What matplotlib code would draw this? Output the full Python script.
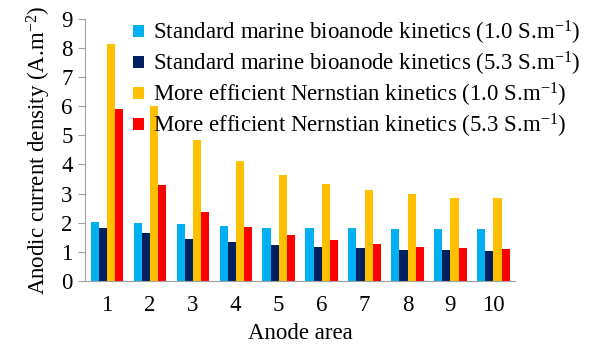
import numpy as np
import matplotlib.pyplot as plt

plt.rcParams['font.family'] = 'Liberation Serif'
plt.rcParams['mathtext.fontset'] = 'custom'
plt.rcParams['mathtext.rm'] = 'Liberation Serif'
plt.rcParams['mathtext.it'] = 'Liberation Serif:italic'

# anode areas 1..10
areas = ['1', '2', '3', '4', '5', '6', '7', '8', '9', '10']
std_10 = [2.01, 2.00, 1.95, 1.89, 1.83, 1.81, 1.81, 1.78, 1.78, 1.78]
std_53 = [1.83, 1.64, 1.45, 1.33, 1.25, 1.17, 1.12, 1.07, 1.07, 1.03]
nern_10 = [8.13, 5.99, 4.85, 4.12, 3.65, 3.34, 3.12, 2.98, 2.86, 2.84]
nern_53 = [5.91, 3.29, 2.37, 1.87, 1.59, 1.40, 1.26, 1.17, 1.12, 1.09]

series = [std_10, std_53, nern_10, nern_53]
labels = ['Standard marine bioanode kinetics (1.0 S.m$^{-1}$)',
          'Standard marine bioanode kinetics (5.3 S.m$^{-1}$)',
          'More efficient Nernstian kinetics (1.0 S.m$^{-1}$)',
          'More efficient Nernstian kinetics (5.3 S.m$^{-1}$)']
colors = ['#00B0F0', '#002060', '#FFC000', '#FF0000']

fig = plt.figure(figsize=(5.96, 3.45), dpi=100)
ax = fig.add_axes([0.143, 0.1855, 0.721, 0.76])

x = np.arange(1, len(areas) + 1)
w = 0.1875
for i, (vals, lab, c) in enumerate(zip(series, labels, colors)):
    ax.bar(x + (i - 1.5) * w, vals, width=w, color=c, label=lab)

fs = 16.5
ax.set_xlim(0.5, 10.5)
ax.set_ylim(0, 9)
ax.set_yticks(range(0, 10))
ax.set_xticks(x)
ax.set_xticklabels(areas)
ax.tick_params(axis='x', length=0, pad=10, labelsize=fs)
ax.tick_params(axis='y', length=5, color='#a0a0a0', labelsize=fs, pad=4)
for s in ['top', 'right']:
    ax.spines[s].set_visible(False)
for s in ['left', 'bottom']:
    ax.spines[s].set_color('#a0a0a0')

ax.set_xlabel('Anode area', fontsize=fs, labelpad=5)
ax.set_ylabel('Anodic current density (A.m$^{-2}$)', fontsize=fs, labelpad=6)

ax.legend(loc='upper left', bbox_to_anchor=(0.064, 1.08), frameon=False,
          fontsize=fs, handlelength=0.45, handleheight=0.45, handletextpad=0.4,
          labelspacing=0.13)

plt.savefig('out.png', dpi=100)
